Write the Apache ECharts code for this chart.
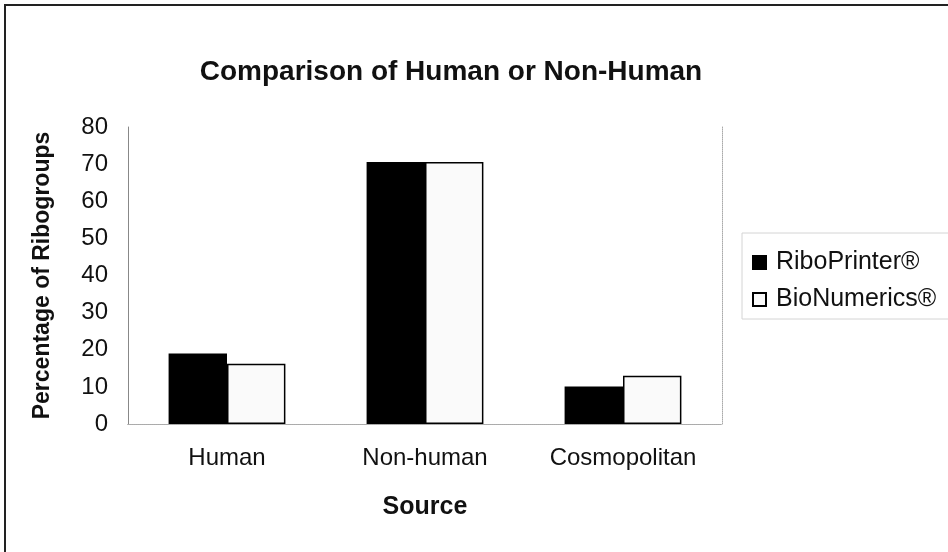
<!DOCTYPE html>
<html>
<head>
<meta charset="utf-8">
<script src="https://cdn.jsdelivr.net/npm/echarts@6/dist/echarts.min.js"></script>
<style>
  html, body { margin: 0; padding: 0; background: #fff; }
  #chart { width: 948px; height: 552px; }
</style>
</head>
<body>
<div id="chart"></div>
<script>
// Share of ribogroups by source, per identification system
const categories = ['Human', 'Non-human', 'Cosmopolitan'];
const riboPrinter = [19.0, 70.6, 10.1];
const bioNumerics = [16.2, 70.6, 13.0];
const yTicks = { min: 0, max: 80, interval: 10 };

const FONT = '"Liberation Sans", Arial, sans-serif';
const chart = echarts.init(document.getElementById('chart'));

chart.setOption({
  backgroundColor: '#ffffff',
  animation: false,
  title: {
    text: 'Comparison of Human or Non-Human',
    left: 446, top: 53, textAlign: 'center',
    textStyle: { fontFamily: FONT, fontSize: 28, fontWeight: 'bold', color: '#111' }
  },
  graphic: [
    { type: 'rect', shape: { x: 5, y: 5, width: 980, height: 600 }, style: { fill: 'none', stroke: '#222', lineWidth: 2 }, silent: true },
    { type: 'rect', shape: { x: 742, y: 233, width: 230, height: 86 }, style: { fill: '#fff', stroke: '#d4d4d4', lineWidth: 1 }, silent: true, z: -1 }
  ],
  legend: {
    orient: 'vertical',
    left: 747, top: 245,
    itemWidth: 13, itemHeight: 13, itemGap: 12,
    icon: 'rect',
    textStyle: { fontFamily: FONT, fontSize: 25, color: '#111', padding: [0, 0, 0, 5] },
    data: ['RiboPrinter®', 'BioNumerics®']
  },
  grid: { left: 128, top: 127, width: 594, height: 297, show: false },
  xAxis: [
    {
      type: 'category', data: categories, position: 'bottom',
      axisLine: { lineStyle: { color: '#888', type: 'dotted', width: 1 } },
      axisTick: { show: false },
      axisLabel: { fontFamily: FONT, fontSize: 24, color: '#111', margin: 22, interval: 0 },
      name: 'Source', nameLocation: 'middle', nameGap: 71,
      nameTextStyle: { fontFamily: FONT, fontSize: 25, fontWeight: 'bold', color: '#111' }
    },
    {
      type: 'category', data: categories, position: 'top',
      axisLine: { lineStyle: { color: '#aaa', type: 'dotted', width: 1 } },
      axisTick: { show: false }, axisLabel: { show: false }
    }
  ],
  yAxis: [
    {
      type: 'value', min: yTicks.min, max: yTicks.max, interval: yTicks.interval,
      axisLine: { show: true, lineStyle: { color: '#888', width: 1 } },
      axisTick: { show: false },
      splitLine: { show: false },
      axisLabel: { fontFamily: FONT, fontSize: 24, color: '#111', margin: 20 },
      name: 'Percentage of Ribogroups', nameLocation: 'middle', nameGap: 74,
      nameTextStyle: { fontFamily: FONT, fontSize: 23, fontWeight: 'bold', color: '#111' }
    },
    {
      type: 'value', min: yTicks.min, max: yTicks.max, interval: yTicks.interval, position: 'right',
      axisLine: { show: true, lineStyle: { color: '#aaa', type: 'dotted', width: 1 } },
      axisTick: { show: false }, splitLine: { show: false }, axisLabel: { show: false }
    }
  ],
  series: [
    {
      name: 'RiboPrinter®', type: 'bar', data: riboPrinter,
      barGap: '0%', barCategoryGap: '41%',
      itemStyle: { color: '#000', borderColor: '#000', borderWidth: 1.5 }
    },
    {
      name: 'BioNumerics®', type: 'bar', data: bioNumerics,
      itemStyle: { color: '#fafafa', borderColor: '#000', borderWidth: 1.5 }
    }
  ]
});
</script>
</body>
</html>
